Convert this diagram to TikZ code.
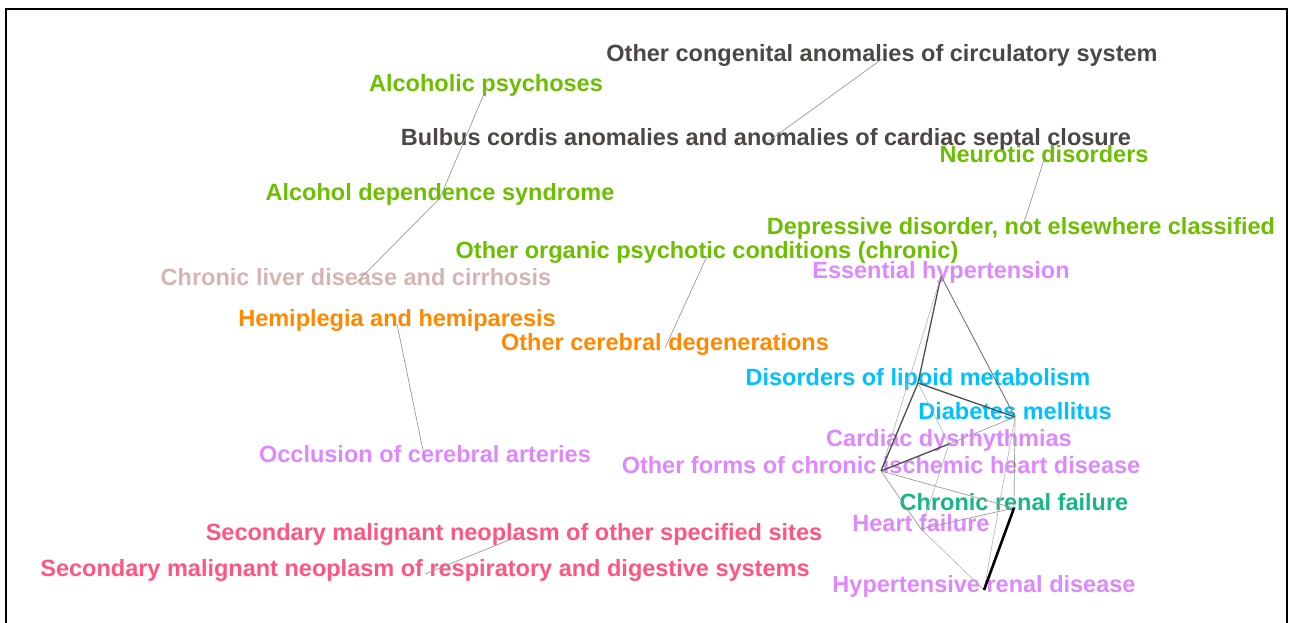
\documentclass[tikz,border=0pt]{standalone}
\usepackage{fontspec}
\setmainfont{Liberation Sans}
\definecolor{dkgrey}{RGB}{76,71,67}
\definecolor{psygreen}{RGB}{108,190,0}
\definecolor{cardviolet}{RGB}{221,136,255}
\definecolor{liverrose}{RGB}{214,180,180}
\definecolor{neuroorange}{RGB}{255,136,0}
\definecolor{metabcyan}{RGB}{0,192,255}
\definecolor{renalteal}{RGB}{22,182,134}
\definecolor{neored}{RGB}{255,85,128}
\tikzset{
  lbl/.style={inner sep=0pt, text height=1.45ex, text depth=.35ex,
    font=\fontsize{23.5}{28}\selectfont\bfseries},
  lnk/.style={draw=black!40, line width=0.7pt},
  lnklight/.style={draw=black!30, line width=0.6pt},
  lnkmid/.style={draw=black!55, line width=0.9pt},
  lnkdark/.style={draw=black!70, line width=1.3pt},
  lnkheavy/.style={draw=black, line width=2.6pt}
}
\begin{document}
\begin{tikzpicture}[x=1pt,y=-1pt]
    \useasboundingbox (0,0) rectangle (1295,622);
    \draw[line width=2.4pt] (6,640) -- (6,9) -- (1287,9) -- (1287,640);
    \node[lbl,dkgrey] (congen) at (882,59) {Other congenital anomalies of circulatory system};
    \node[lbl,psygreen] (alcpsy) at (486,89) {Alcoholic psychoses};
    \node[lbl,dkgrey] (bulbus) at (766,143) {Bulbus cordis anomalies and anomalies of cardiac septal closure};
    \node[lbl,psygreen] (neurot) at (1044,160) {Neurotic disorders};
    \node[lbl,psygreen] (alcdep) at (440,198) {Alcohol dependence syndrome};
    \node[lbl,psygreen] (depres) at (1021,232) {Depressive disorder, not elsewhere classified};
    \node[lbl,psygreen] (orgpsy) at (707,256) {Other organic psychotic conditions (chronic)};
    \node[lbl,cardviolet] (esshyp) at (941,276) {Essential hypertension};
    \node[lbl,liverrose] (liver) at (356,283) {Chronic liver disease and cirrhosis};
    \node[lbl,neuroorange] (hemipl) at (397,324) {Hemiplegia and hemiparesis};
    \node[lbl,neuroorange] (cereb) at (665,348) {Other cerebral degenerations};
    \node[lbl,metabcyan] (lipoid) at (918,383) {Disorders of lipoid metabolism};
    \node[lbl,metabcyan] (diabet) at (1015,417) {Diabetes mellitus};
    \node[lbl,cardviolet] (dysrhy) at (949,444) {Cardiac dysrhythmias};
    \node[lbl,cardviolet] (occlus) at (425,460) {Occlusion of cerebral arteries};
    \node[lbl,cardviolet] (ischem) at (881,471) {Other forms of chronic ischemic heart disease};
    \node[lbl,renalteal] (renal) at (1014,508) {Chronic renal failure};
    \node[lbl,cardviolet] (hfail) at (921,529) {Heart failure};
    \node[lbl,neored] (secoth) at (514,538) {Secondary malignant neoplasm of other specified sites};
    \node[lbl,neored] (secres) at (425,574) {Secondary malignant neoplasm of respiratory and digestive systems};
    \node[lbl,cardviolet] (hyprenal) at (984,590) {Hypertensive renal disease};
    \draw[lnk] (congen.center) -- (bulbus.center);
    \draw[lnk] (alcpsy.center) -- (alcdep.center) -- (liver.center);
    \draw[lnk] (neurot.center) -- (depres.center);
    \draw[lnk] (orgpsy.center) -- (cereb.center);
    \draw[lnk] (hemipl.center) -- (occlus.center);
    \draw[lnk] (secoth.center) -- (secres.center);
    \draw[lnkdark] (esshyp.center) -- (lipoid.center);
    \draw[lnkmid] (esshyp.center) -- (diabet.center);
    \draw[lnklight] (esshyp.center) -- (ischem.center);
    \draw[lnkdark] (lipoid.center) -- (diabet.center);
    \draw[lnkdark] (lipoid.center) -- (ischem.center);
    \draw[lnklight] (lipoid.center) -- (dysrhy.center);
    \draw[lnk] (diabet.center) -- (dysrhy.center);
    \draw[lnk] (diabet.center) -- (renal.center);
    \draw[lnklight] (diabet.center) -- (hyprenal.center);
    \draw[lnkdark] (dysrhy.center) -- (ischem.center);
    \draw[lnklight] (dysrhy.center) -- (hfail.center);
    \draw[lnk] (ischem.center) -- (renal.center);
    \draw[lnk] (ischem.center) -- (hfail.center);
    \draw[lnklight] (hfail.center) -- (hyprenal.center);
    \draw[lnk] (renal.center) -- (hfail.center);
    \draw[lnkheavy] (renal.center) -- (hyprenal.center);
\end{tikzpicture}
\end{document}
